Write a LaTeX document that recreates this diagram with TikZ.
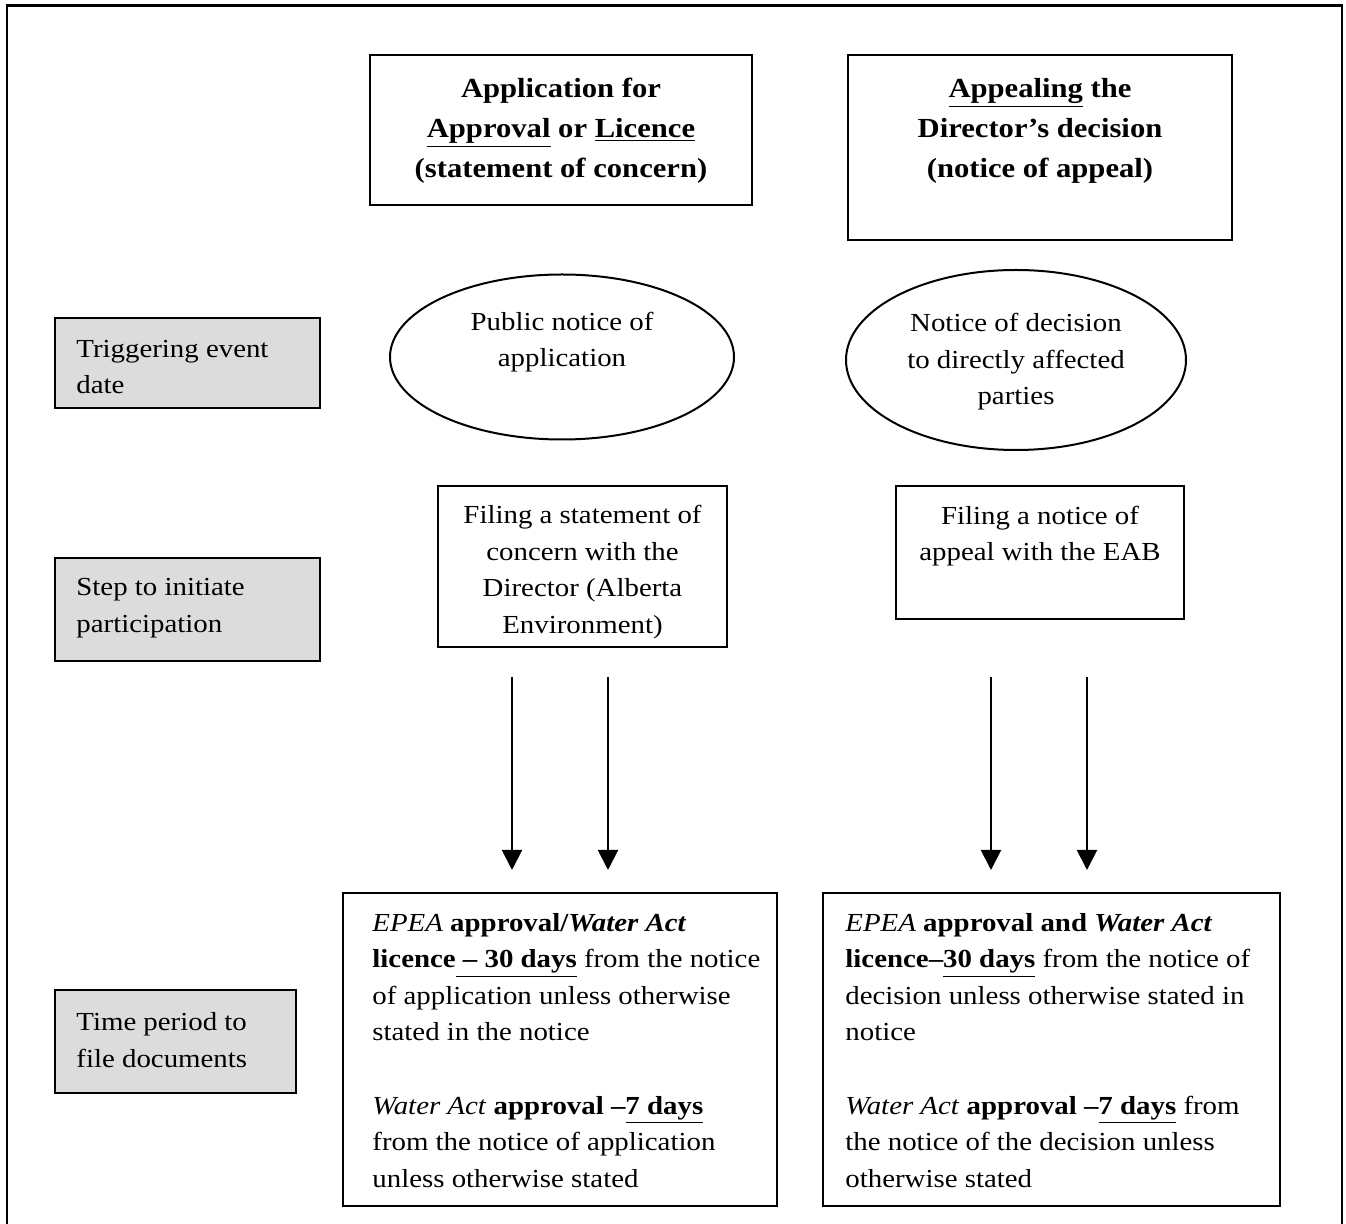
\documentclass[tikz,border=0pt]{standalone}
\usepackage{fontspec}
\setmainfont{Liberation Serif}[FakeStretch=1.11]
\usetikzlibrary{shapes.geometric,arrows.meta}
\definecolor{greyfill}{RGB}{220,220,220}
\begin{document}
\begin{tikzpicture}[x=0.5pt,y=-0.5pt,
  box/.style={draw, line width=1pt, inner sep=0pt},
  greybox/.style={draw, line width=1pt, fill=greyfill, inner sep=0pt},
  oval/.style={draw, ellipse, line width=1pt, inner sep=0pt},
  title/.style={font=\bfseries\fontsize{13.8}{20}\selectfont, align=center, inner sep=0pt},
  body/.style={font=\fontsize{13}{18.25}\selectfont, align=center, inner sep=0pt},
  bodyl/.style={font=\fontsize{13}{18.25}\selectfont, align=left, inner sep=0pt},
  flow/.style={line width=1pt, -{Triangle[width=10pt,length=10pt]}}]
\useasboundingbox (0,0) rectangle (1346,1224);
% outer frame (its bottom edge lies below the picture)
\draw[line width=1.2pt] (7,1240) -- (7,5.5) -- (1342,5.5) -- (1342,1240);

% column headers
\node[box, minimum width=191pt, minimum height=75pt] (appbox) at (561,130) {};
\node[title] (app) at (561,131)
  {Application for\\\underline{Approval} or \underline{Licence}\\(statement of concern)};
\node[box, minimum width=192pt, minimum height=92.5pt] (appealbox) at (1040,147.5) {};
\node[title] (appeal) at (1040,131)
  {\underline{Appealing} the\\Director’s decision\\(notice of appeal)};

% row labels
\node[greybox, minimum width=132.5pt, minimum height=45pt] (trigbox) at (187.5,363) {};
\node[bodyl, anchor=west] (trig) at (76,367) {Triggering event\\date};
\node[greybox, minimum width=132.5pt, minimum height=51.5pt] (stepbox) at (187.5,609.5) {};
\node[bodyl, anchor=west] (steplbl) at (76,608) {Step to initiate\\participation};
\node[greybox, minimum width=120.5pt, minimum height=51.5pt] (timebox) at (175.5,1041.5) {};
\node[bodyl, anchor=west] (timelbl) at (76,1040) {Time period to\\file documents};

% triggering events
\node[oval, minimum width=172pt, minimum height=82.5pt] (pubov) at (562,357) {};
\node[body] (pub) at (562,342) {Public notice of\\application};
\node[oval, minimum width=170pt, minimum height=90pt] (decov) at (1016,360) {};
\node[body] (dec) at (1016,362) {Notice of decision\\to directly affected\\parties};

% steps
\node[box, minimum width=144.5pt, minimum height=80.5pt] (soc) at (582.5,566.5) {};
\node[body] (soctxt) at (582.5,572) {Filing a statement of\\concern with the\\Director (Alberta\\Environment)};
\node[box, minimum width=144pt, minimum height=66.5pt] (noa) at (1040,552.5) {};
\node[body] (noatxt) at (1040,536) {Filing a notice of\\appeal with the EAB};

% arrows
\coordinate (a1s) at (512,677); \coordinate (a1e) at (512,870);
\coordinate (a2s) at (608,677); \coordinate (a2e) at (608,870);
\coordinate (a3s) at (991,677); \coordinate (a3e) at (991,870);
\coordinate (a4s) at (1087,677); \coordinate (a4e) at (1087,870);
\draw[flow] (a1s) -- (a1e);
\draw[flow] (a2s) -- (a2e);
\draw[flow] (a3s) -- (a3e);
\draw[flow] (a4s) -- (a4e);

% time periods
\node[box, minimum width=217pt, minimum height=156.5pt] (tp1) at (560,1049.5) {};
\node[bodyl, anchor=north west] (tp1txt) at (372,913)
  {\textit{EPEA} \textbf{approval/\textit{Water Act}}\\
   \textbf{licence\underline{ – 30 days}} from the notice\\
   of application unless otherwise\\
   stated in the notice\\[18.5pt]
   \textit{Water Act} \textbf{approval –\underline{7 days}}\\
   from the notice of application\\
   unless otherwise stated};
\node[box, minimum width=228.5pt, minimum height=156.5pt] (tp2) at (1051.5,1049.5) {};
\node[bodyl, anchor=north west] (tp2txt) at (845,913)
  {\textit{EPEA} \textbf{approval and \textit{Water Act}}\\
   \textbf{licence–\underline{30 days}} from the notice of\\
   decision unless otherwise stated in\\
   notice\\[18.5pt]
   \textit{Water Act} \textbf{approval –\underline{7 days}} from\\
   the notice of the decision unless\\
   otherwise stated};
\end{tikzpicture}
\end{document}
